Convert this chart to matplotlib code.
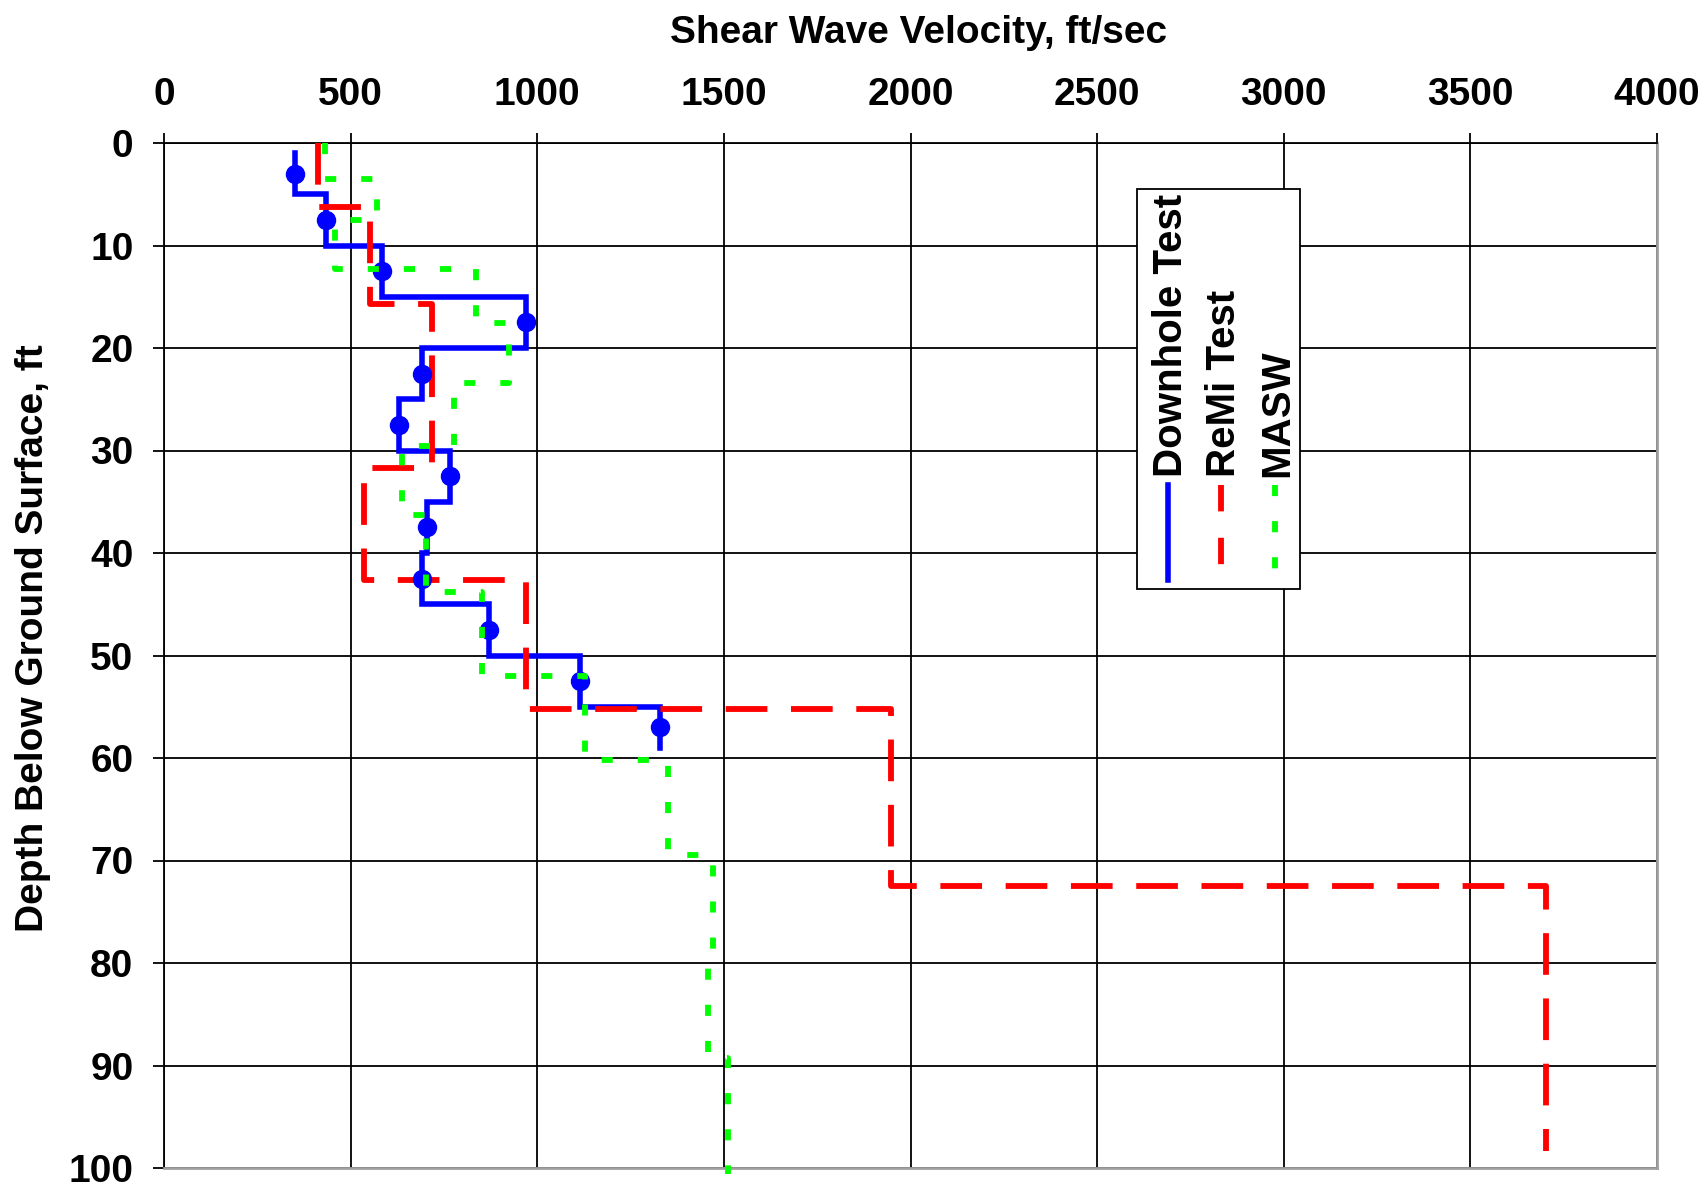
import numpy as np
import matplotlib
matplotlib.use("Agg")
import matplotlib.pyplot as plt
from matplotlib.lines import Line2D
from matplotlib.patches import Rectangle

plt.rcParams['font.family'] = ['Liberation Sans', 'DejaVu Sans']
plt.rcParams['font.weight'] = 'bold'
plt.rcParams['lines.scale_dashes'] = False

# ---------------- data ----------------
series_names = ["Downhole Test", "ReMi Test", "MASW"]

# Downhole test: layer boundaries (ft) and velocities (ft/s)
dh_depths = [1, 5, 10, 15, 20, 25, 30, 35, 40, 45, 50, 55, 59]
dh_vel = [350, 435, 585, 970, 690, 630, 765, 705, 690, 870, 1115, 1330]
dh_mark_depth = [3, 7.5, 12.5, 17.5, 22.5, 27.5, 32.5, 37.5, 42.5, 47.5, 52.5, 57]

# ReMi test
remi_depths = [0, 6.25, 15.75, 31.7, 42.6, 55.2, 72.5, 98.3]
remi_vel = [413, 551, 718, 535, 970, 1948, 3702]

# MASW
masw_depths = [0, 3.5, 7.55, 12.3, 17.6, 23.4, 29.6, 36.3, 43.8, 52.0, 60.2, 69.5, 79.1, 89.3, 100.6]
masw_vel = [432, 572, 459, 835, 924, 776, 638, 702, 853, 1127, 1350, 1472, 1457, 1511]

x_ticks = [0, 500, 1000, 1500, 2000, 2500, 3000, 3500, 4000]
y_ticks = [0, 10, 20, 30, 40, 50, 60, 70, 80, 90, 100]
title = "Shear Wave Velocity, ft/sec"
ylabel = "Depth Below Ground Surface, ft"


def step_profile(depths, vels):
    x = np.repeat(np.asarray(vels, float), 2)
    d = np.asarray(depths, float)
    y = np.empty(2 * len(vels))
    y[0::2] = d[:-1]
    y[1::2] = d[1:]
    return x, y


W, H = 1703, 1187
fig = plt.figure(figsize=(W / 100, H / 100), dpi=100)
L, R, T, B = 164, 1657, 143, 1168
ax = fig.add_axes([L / W, 1 - B / H, (R - L) / W, (B - T) / H])

blue = '#0000ff'
red = '#ff0000'
green = '#00ff00'
FS = 28

xb, yb = step_profile(dh_depths, dh_vel)
ax.plot(xb, yb, color=blue, lw=4.0, zorder=3, solid_joinstyle='miter')
ax.plot(dh_vel, dh_mark_depth, linestyle='none', marker='o', ms=13,
        color=blue, zorder=4.5)

xr, yr = step_profile(remi_depths, remi_vel)
ax.plot(xr, yr, color=red, lw=4.2, linestyle=(0, (30, 17)), zorder=4,
        dash_capstyle='butt', clip_on=False)

xg, yg = step_profile(masw_depths, masw_vel)
ax.plot(xg, yg, color=green, lw=4.2, linestyle=(0, (8, 18)), zorder=5,
        dash_capstyle='butt', clip_on=False)

ax.set_xlim(0, 4000)
ax.set_ylim(100, 0)
ax.set_xticks(x_ticks)
ax.set_yticks(y_ticks)
ax.xaxis.tick_top()
ax.tick_params(axis='x', top=True, labeltop=True, bottom=False, labelbottom=False,
               length=7.5, width=1.3, pad=14, labelsize=FS, color='black')
ax.tick_params(axis='y', left=True, length=8, width=1.3, pad=14, labelsize=FS,
               color='black')
for lab in ax.get_xticklabels() + ax.get_yticklabels():
    lab.set_fontweight('bold')

ax.grid(True, color='black', lw=1.3, zorder=1)
ax.set_axisbelow(True)
for s in ['top', 'left']:
    ax.spines[s].set_color('black')
    ax.spines[s].set_linewidth(1.3)
for s in ['right', 'bottom']:
    ax.spines[s].set_color('#a0a0a0')
    ax.spines[s].set_linewidth(2)

fig.text(919 / W, 1 - 43 / H, title, ha='center', va='baseline',
         fontsize=FS, fontweight='bold')
fig.text(33 / W, 1 - 638 / H, ylabel, ha='center', va='center', rotation=90,
         fontsize=FS, fontweight='bold')

# ---------------- custom vertical legend ----------------
tf = fig.transFigure
box = Rectangle((1137 / W, 1 - 589 / H), (1300 - 1137) / W, (589 - 189) / H,
                transform=tf, facecolor='white', edgecolor='black', lw=1.3,
                zorder=10)
fig.add_artist(box)
styles = [dict(color=blue, lw=4.0, linestyle='-'),
          dict(color=red, lw=4.2, linestyle=(0, (19, 19))),
          dict(color=green, lw=4.2, linestyle=(0, (8, 18)))]
text_base_x = [1182, 1235, 1288]
line_x = [1168, 1221, 1275]
for name, st, tx, lx in zip(series_names, styles, text_base_x, line_x):
    fig.text(tx / W, 1 - 477 / H, name, rotation=90, rotation_mode='anchor',
             ha='left', va='baseline', fontsize=29, fontweight='bold', zorder=11)
    fig.add_artist(Line2D([lx / W, lx / W], [1 - 485 / H, 1 - 580 / H],
                          transform=tf, zorder=11, dash_capstyle='butt', **st))

fig.savefig('out.png', dpi=100)
